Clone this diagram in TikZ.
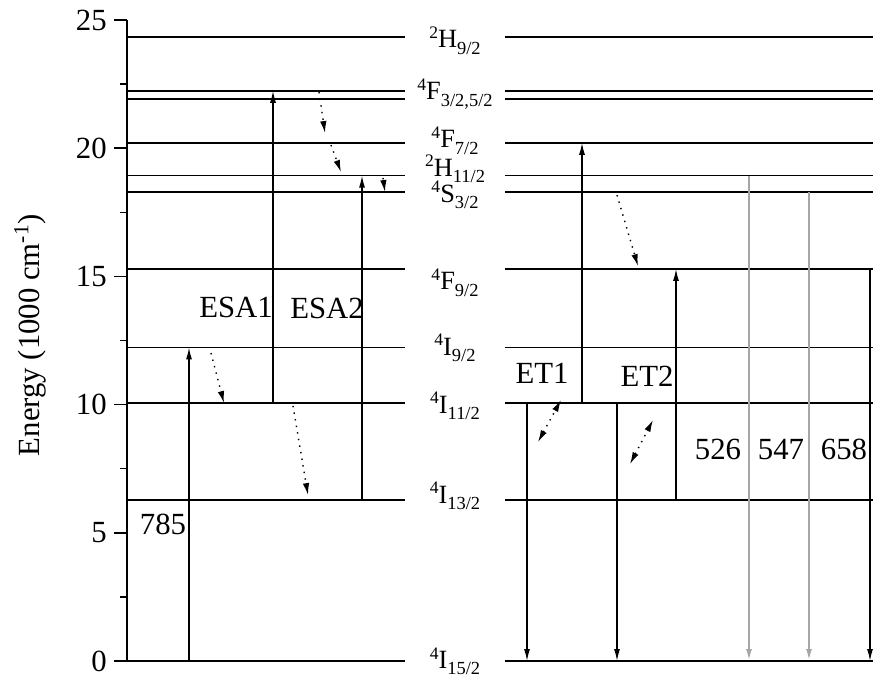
\documentclass[tikz,border=0pt]{standalone}
\usepackage{fontspec}
\setmainfont{Liberation Serif}
\usetikzlibrary{arrows.meta}
\newcommand{\lterm}[3]{\raisebox{5.5pt}{\fontsize{10}{10}\selectfont #1}#2\raisebox{-3.5pt}{\fontsize{10.5}{10}\selectfont #3}}
\tikzset{
  lvl/.style={line width=0.95pt},
  axis/.style={line width=0.8pt},
  pump/.style={-{Latex[length=2.4mm,width=1.2mm]},line width=0.75pt},
  emit/.style={pump,draw=gray!70,line width=1.2pt},
  relax/.style={-{Latex[length=2.4mm,width=1.3mm]},line width=0.8pt,dash pattern=on 0.8pt off 3pt},
  trans/.style={relax,{Latex[length=2.4mm,width=1.3mm]}-{Latex[length=2.4mm,width=1.3mm]}},
  termlab/.style={anchor=base,inner sep=0pt,font=\fontsize{15}{16}\selectfont},
  txt/.style={inner sep=0pt,font=\fontsize{17.5}{19}\selectfont},
  wl/.style={txt,anchor=base},
}

\begin{document}
\begin{tikzpicture}[x=0.2mm,y=5.128mm]
  \useasboundingbox (0,-0.819) rectangle (873,25.78);
  % axis and ticks
  \draw[axis] (127,-0.05) -- (127,25);
  \foreach \e in {0,5,...,25} {
    \draw[axis] (114,\e) -- (127,\e);
    \node[txt,anchor=east] (t\e) at (107,\e) {\e};
  }
  \foreach \e in {2.5,7.5,...,22.5}
    \draw[axis] (120,\e) -- (127,\e);
  \node[txt,rotate=90] (ylab) at (30,12.71) {Energy (1000 cm\textsuperscript{-1})};
  % energy levels
  \foreach \n/\e in {I15/0,I13/6.27,I11/10.05,I9/12.23,F9/15.29,S3/18.28,
                     H11/18.93,F7/20.21,F5/21.92,F3/22.24,H9/24.33} {
    \coordinate (\n) at (0,\e);
    \draw[lvl] (127,\e) -- (405,\e);
    \draw[lvl] (505,\e) -- (873,\e);
  }
  \node[termlab] (lH9) at (455,23.91) {\lterm{2}{H}{9/2}};
  \node[termlab] (lF3) at (455,21.88) {\lterm{4}{F}{3/2,5/2}};
  \node[termlab] (lF7) at (455,20.01) {\lterm{4}{F}{7/2}};
  \node[termlab] (lH11) at (455,18.90) {\lterm{2}{H}{11/2}};
  \node[termlab] (lS3) at (455,17.88) {\lterm{4}{S}{3/2}};
  \node[termlab] (lF9) at (455,14.47) {\lterm{4}{F}{9/2}};
  \node[termlab] (lI9) at (455,11.93) {\lterm{4}{I}{9/2}};
  \node[termlab] (lI11) at (455,9.67) {\lterm{4}{I}{11/2}};
  \node[termlab] (lI13) at (455,6.16) {\lterm{4}{I}{13/2}};
  \node[termlab] (lI15) at (455,-0.30) {\lterm{4}{I}{15/2}};
  % columns of the transitions
  \coordinate (x785) at (189,0);
  \coordinate (xesa1) at (273,0);
  \coordinate (xesa2) at (362,0);
  \coordinate (xet1) at (527,0);
  \coordinate (xup) at (582,0);
  \coordinate (xet2) at (617,0);
  \coordinate (xf9) at (676,0);
  \coordinate (x526) at (749,0);
  \coordinate (x547) at (809,0);
  \coordinate (x658) at (870,0);
  \draw[pump] (x785 |- I15) -- (x785 |- I9);
  \draw[pump] (xesa1 |- I11) -- (xesa1 |- F3);
  \draw[pump] (xesa2 |- I13) -- (xesa2 |- H11);
  \draw[pump] (xup |- I11) -- (xup |- F7);
  \draw[pump] (xf9 |- I13) -- (xf9 |- F9);
  \draw[pump] (xet1 |- I11) -- (xet1 |- I15);
  \draw[pump] (xet2 |- I11) -- (xet2 |- I15);
  \draw[emit] (x526 |- H11) -- (x526 |- I15);
  \draw[emit] (x547 |- S3) -- (x547 |- I15);
  \draw[pump] (x658 |- F9) -- (x658 |- I15);
  % non-radiative relaxation and energy transfer
  \coordinate (r1a) at (211,12.01); \coordinate (r1b) at (224,10.06);
  \coordinate (r2a) at (293,9.95);  \coordinate (r2b) at (308,6.47);
  \coordinate (r3a) at (319,22.19); \coordinate (r3b) at (325,20.59);
  \coordinate (r4a) at (331,20.12); \coordinate (r4b) at (341,19.07);
  \coordinate (r5a) at (383,18.84); \coordinate (r5b) at (385,18.29);
  \coordinate (r6a) at (617,18.17); \coordinate (r6b) at (638,15.40);
  \coordinate (e1a) at (538,8.54);  \coordinate (e1b) at (561,10.18);
  \coordinate (e2a) at (630,7.68);  \coordinate (e2b) at (653,9.40);
  \draw[relax] (r1a) -- (r1b);
  \draw[relax] (r2a) -- (r2b);
  \draw[relax] (r3a) -- (r3b);
  \draw[relax] (r4a) -- (r4b);
  \draw[relax] (r5a) -- (r5b);
  \draw[relax] (r6a) -- (r6b);
  \draw[trans] (e1a) -- (e1b);
  \draw[trans] (e2a) -- (e2b);
  % transition labels
  \node[wl] (esa1) at (236,13.38) {ESA1};
  \node[wl] (esa2) at (327,13.36) {ESA2};
  \node[wl] (w785) at (163,4.95) {785};
  \node[wl] (et1) at (542,10.84) {ET1};
  \node[wl] (et2) at (647,10.70) {ET2};
  \node[wl] (w526) at (718,7.84) {526};
  \node[wl] (w547) at (781,7.84) {547};
  \node[wl] (w658) at (844,7.84) {658};
\end{tikzpicture}
\end{document}
